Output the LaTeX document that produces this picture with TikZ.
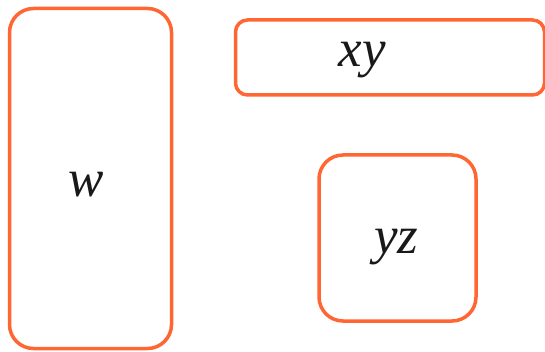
\documentclass[tikz,border=0pt]{standalone}
\usepackage{fontspec}
\setmainfont{Liberation Serif}
\definecolor{boxorange}{HTML}{FF6633}
\begin{document}
\begin{tikzpicture}[x=1pt,y=-1pt,
  roundbox/.style={draw=boxorange, line width=3.5pt, rectangle, inner sep=0pt},
  lbl/.style={font=\fontsize{53}{60}\selectfont\itshape, text=black!90, anchor=base, inner sep=0pt}]
\useasboundingbox (0,0) rectangle (545,352);
\node[roundbox, rounded corners=24pt, minimum width=162pt, minimum height=340pt] (w) at (90.5,178.5) {};
\node[roundbox, rounded corners=12pt, minimum width=309pt, minimum height=75pt] (xy) at (390,57.5) {};
\node[roundbox, rounded corners=24pt, minimum width=157pt, minimum height=166pt] (yz) at (397.5,238) {};
\node[lbl] (wt) at (86.5,197) {w};
\node[lbl] (xyt) at (362,67) {xy};
\node[lbl] (yzt) at (396.5,253) {yz};
\end{tikzpicture}
\end{document}
